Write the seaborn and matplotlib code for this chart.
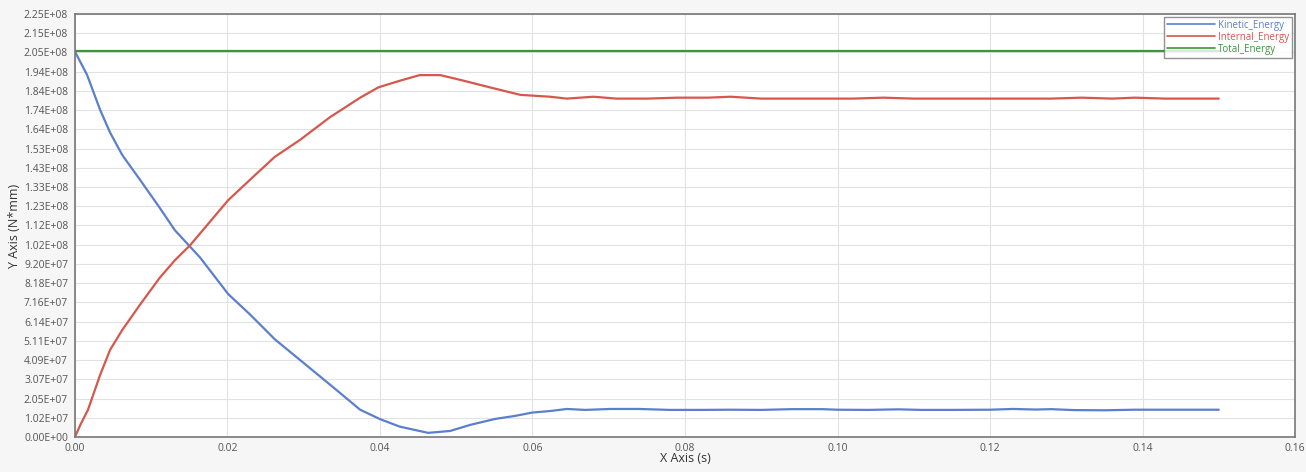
import numpy as np
import pandas as pd
import seaborn as sns
from matplotlib import pyplot as plt

# time (s) and energy (N*mm)
kin_t = [0.0, 0.0016, 0.0033, 0.0046, 0.0062, 0.0085, 0.0111, 0.0131, 0.0164, 0.0201,
         0.023, 0.0262, 0.0295, 0.0334, 0.0374, 0.040, 0.0426, 0.0463, 0.0492, 0.0518,
         0.0551, 0.0577, 0.060, 0.0623, 0.0645, 0.0669, 0.0702, 0.074, 0.078, 0.082,
         0.086, 0.090, 0.094, 0.098, 0.100, 0.104, 0.108, 0.111, 0.115, 0.120,
         0.123, 0.126, 0.128, 0.131, 0.135, 0.139, 0.143, 0.150]
kin_e = [2.05e8, 1.925e8, 1.74e8, 1.62e8, 1.50e8, 1.37e8, 1.22e8, 1.10e8, 0.955e8, 0.76e8,
         0.65e8, 0.52e8, 0.41e8, 0.28e8, 0.145e8, 0.095e8, 0.055e8, 0.022e8, 0.032e8, 0.064e8,
         0.096e8, 0.112e8, 0.130e8, 0.138e8, 0.149e8, 0.144e8, 0.149e8, 0.149e8, 0.144e8, 0.144e8,
         0.145e8, 0.144e8, 0.148e8, 0.148e8, 0.145e8, 0.144e8, 0.147e8, 0.144e8, 0.144e8, 0.145e8,
         0.149e8, 0.146e8, 0.148e8, 0.143e8, 0.142e8, 0.145e8, 0.145e8, 0.145e8]

int_t = [0.0, 0.0007, 0.0017, 0.0033, 0.0046, 0.0062, 0.0085, 0.0111, 0.0131, 0.0151,
         0.0201, 0.023, 0.0262, 0.0295, 0.0334, 0.0374, 0.0398, 0.0426, 0.0452, 0.0479,
         0.0505, 0.0544, 0.0584, 0.0623, 0.0645, 0.068, 0.071, 0.075, 0.079, 0.083,
         0.086, 0.090, 0.094, 0.098, 0.102, 0.106, 0.110, 0.114, 0.120, 0.124,
         0.128, 0.132, 0.136, 0.139, 0.143, 0.150]
int_e = [0.0, 0.064e8, 0.144e8, 0.33e8, 0.463e8, 0.569e8, 0.702e8, 0.846e8, 0.94e8, 1.02e8,
         1.26e8, 1.37e8, 1.49e8, 1.58e8, 1.70e8, 1.805e8, 1.86e8, 1.895e8, 1.925e8, 1.925e8,
         1.90e8, 1.86e8, 1.82e8, 1.81e8, 1.80e8, 1.81e8, 1.80e8, 1.80e8, 1.805e8, 1.805e8,
         1.81e8, 1.80e8, 1.80e8, 1.80e8, 1.80e8, 1.805e8, 1.80e8, 1.80e8, 1.80e8, 1.80e8,
         1.80e8, 1.805e8, 1.80e8, 1.805e8, 1.80e8, 1.80e8]

tot_t = [0.0, 0.150]
tot_e = [2.053e8, 2.053e8]

x_ticks = [0.00, 0.02, 0.04, 0.06, 0.08, 0.10, 0.12, 0.14, 0.16]
y_labels = ['0.00E+00', '1.02E+07', '2.05E+07', '3.07E+07', '4.09E+07', '5.11E+07',
            '6.14E+07', '7.16E+07', '8.18E+07', '9.20E+07', '1.02E+08', '1.12E+08',
            '1.23E+08', '1.33E+08', '1.43E+08', '1.53E+08', '1.64E+08', '1.74E+08',
            '1.84E+08', '1.94E+08', '2.05E+08', '2.15E+08', '2.25E+08']
y_max = 2.25e8

df = pd.concat([
    pd.DataFrame({'t': kin_t, 'e': kin_e, 'curve': 'Kinetic_Energy'}),
    pd.DataFrame({'t': int_t, 'e': int_e, 'curve': 'Internal_Energy'}),
    pd.DataFrame({'t': tot_t, 'e': tot_e, 'curve': 'Total_Energy'}),
])

sns.set_theme(style='whitegrid')
plt.rcParams['font.family'] = ['Open Sans', 'DejaVu Sans']
colors = {'Kinetic_Energy': '#5b7fce', 'Internal_Energy': '#d6574c', 'Total_Energy': '#3c953c'}

fig = plt.figure(figsize=(13.06, 4.72), dpi=100, facecolor='#f6f6f6')
ax = fig.add_axes([0.0574, 0.0742, 0.9342, 0.8961])
ax.set_facecolor('white')

sns.lineplot(data=df, x='t', y='e', hue='curve', palette=colors,
             estimator=None, sort=False, linewidth=1.6, ax=ax)

ax.set_xlim(0, 0.16)
ax.set_ylim(0, y_max)
ax.set_xticks(x_ticks)
ax.set_xticklabels([f'{v:.2f}' for v in x_ticks])
ax.set_yticks(np.linspace(0, y_max, len(y_labels)))
ax.set_yticklabels(y_labels)
ax.tick_params(axis='both', labelsize=7.5, labelcolor='#555555', length=3,
               width=0.8, color='#777777', pad=2)
ax.tick_params(axis='x', pad=1)
ax.grid(True, color='#e2e2e2', linewidth=0.8)
for s in ax.spines.values():
    s.set_color('#777777')
    s.set_linewidth(1.2)

ax.set_xlabel('X Axis (s)', fontsize=9, color='#333333', labelpad=-1)
ax.set_ylabel('Y Axis (N*mm)', fontsize=9, color='#333333', labelpad=2)

leg = ax.legend(loc='upper right', fontsize=7, frameon=True, fancybox=False,
                handlelength=5, handletextpad=0.3, borderpad=0.3, labelspacing=0.1,
                borderaxespad=0.3)
leg.get_frame().set_edgecolor('#777777')
leg.get_frame().set_linewidth(1.0)
for txt, line in zip(leg.get_texts(), leg.get_lines()):
    txt.set_color(line.get_color())
    line.set_linewidth(1.2)

fig.savefig('out.png', dpi=100, facecolor=fig.get_facecolor())
